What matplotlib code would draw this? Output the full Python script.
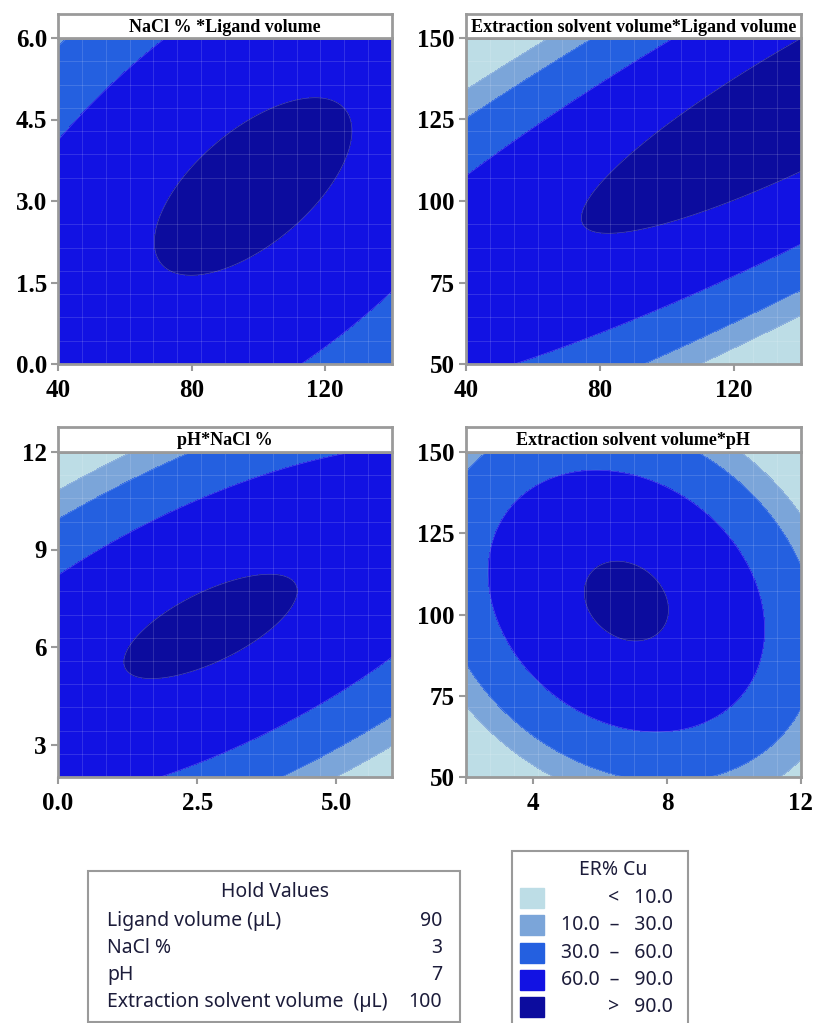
import numpy as np
import matplotlib
matplotlib.use("Agg")
import matplotlib.pyplot as plt
from matplotlib.patches import Rectangle
from matplotlib.ticker import LinearLocator

# ER% Cu bands
levels = [10, 30, 60, 90]
band_colors = ["#bddde6", "#7ba5d9", "#2460e0", "#1212e3", "#0c0c9e"]
band_labels = ["<   10.0", "10.0  \u2013   30.0", "30.0  \u2013   60.0", "60.0  \u2013   90.0", ">   90.0"]

# points, (x, y) per level
# NaCl % (y) vs Ligand volume (x)
nacl_lig = {
    90: [(69.2, 2.27), (70.7, 2.70), (75.7, 3.25), (82.7, 3.80), (92.6, 4.30), (102.6, 4.66),
         (112.6, 4.86), (122.6, 4.85), (126.5, 4.66), (127.5, 4.23), (125.5, 3.74), (118.6, 3.00),
         (109.6, 2.45), (97.6, 2.02), (82.7, 1.59), (74.7, 1.59), (70.7, 1.83)],
    60: [(40, 4.05), (48.8, 4.73), (60.7, 5.46), (71.7, 6.0),
         (111.6, 0.0), (122.6, 0.48), (132.5, 0.91), (140, 1.28)],
    30: [(40, 5.8), (42.3, 6.0)],
}
# Extraction solvent volume (y) vs Ligand volume (x)
ext_lig = {
    90: [(72, 94), (80, 90), (97, 91.8), (108, 96), (119, 100), (140, 108),
         (76, 101), (83, 110), (93, 116), (108, 131), (123, 139), (140, 150)],
    60: [(40, 108.5), (61.8, 120.6), (87.7, 141), (105, 150),
         (53, 50), (93, 65), (123, 79.5), (140, 88)],
    30: [(40, 125.2), (77, 150), (91, 50), (113, 63), (140, 73)],
    10: [(40, 133.9), (63, 150), (119, 50), (140, 66)],
}
# pH (y) vs NaCl % (x)
ph_nacl = {
    90: [(1.14, 5.78), (1.47, 5.11), (2.14, 5.11), (2.86, 5.58), (3.76, 6.4), (4.24, 7.22),
         (4.39, 7.94), (3.88, 8.45), (3.16, 8.15), (2.32, 7.43), (1.53, 6.71)],
    60: [(0, 8.3), (1.35, 9.17), (3.16, 10.5), (4.96, 11.95),
         (1.7, 2.0), (3.76, 3.3), (4.96, 4.55), (6.0, 5.78)],
    30: [(0, 9.94), (1.35, 11.1), (2.14, 12.0), (3.82, 2.0), (4.96, 2.8), (6.0, 3.98)],
    10: [(0, 10.8), (1.11, 12.0), (5.28, 2.0), (6.0, 3.1)],
}
# Extraction solvent volume (y) vs pH (x)
ext_ph = {
    90: [(5.54, 108.5), (5.69, 102.3), (6.29, 94.1), (7.09, 91.5), (7.69, 92.6), (8.09, 105.4),
         (8.19, 102.3), (7.49, 113.6), (6.49, 116.7), (5.89, 113.6)],
    60: [(2.75, 116.7), (3.3, 135.1), (5.99, 143.3), (7.79, 140.4), (9.08, 130.1), (9.98, 119.9),
         (10.77, 107.6), (10.98, 92.2), (10.48, 76.8), (9.28, 69.6), (8.09, 64.5),
         (6.18, 67.6), (4.99, 74.7), (4.19, 81.9), (3.29, 92.2)],
    30: [(2.0, 143.3), (2.6, 150), (9.08, 150), (10.28, 140.4), (11.37, 127.1), (11.87, 119.9),
         (12.0, 70.6), (11.36, 61.5), (10.38, 54.3), (9.08, 50.7),
         (2.05, 79.8), (3.0, 72.6), (4.0, 62.4), (5.28, 51.1)],
    10: [(10.28, 150), (11.07, 140.4), (11.87, 130.1), (12.0, 56.2), (11.46, 50.7),
         (2.05, 71.2), (3.0, 61.5), (4.49, 50.7)],
}

# how much each contour line counts in the fit (flat top needs more weight)
level_weight = {10: 1.0, 30: 1.0, 60: 2.0, 90: 8.0}

panels = [
    ("NaCl % *Ligand volume", nacl_lig, (40, 140), (0, 6), [40, 80, 120], [0, 1.5, 3.0, 4.5, 6.0], "%.0f", "%.1f"),
    ("Extraction solvent volume*Ligand volume", ext_lig, (40, 140), (50, 150), [40, 80, 120], [50, 75, 100, 125, 150], "%.0f", "%.0f"),
    ("pH*NaCl %", ph_nacl, (0, 6), (2, 12), [0, 2.5, 5.0], [3, 6, 9, 12], "%.1f", "%.0f"),
    ("Extraction solvent volume*pH", ext_ph, (2, 12), (50, 150), [2, 4, 8, 12], [50, 75, 100, 125, 150], "%.0f", "%.0f"),
]

W, H = 816, 1023
def fx(x): return x / W
def fy(y): return 1 - y / H

# axes boxes in pixels: left, top, right, bottom
boxes = [(58, 38, 392, 364), (466, 38, 801, 364), (58, 452, 392, 777), (466, 452, 801, 777)]
title_tops = [14, 14, 427, 427]


def coded(a, r):
    return (np.asarray(a, float) - (r[0] + r[1]) / 2) / ((r[1] - r[0]) / 2)


def fit_surface(pts, xr, yr):
    xs, ys, z, w = [], [], [], []
    for lev, plist in pts.items():
        for x, y in plist:
            xs.append(x); ys.append(y); z.append(lev); w.append(level_weight[lev])
    u, v = coded(xs, xr), coded(ys, yr)
    z, w = np.array(z, float), np.sqrt(np.array(w))
    A = np.column_stack([np.ones_like(u), u, v, u * u, v * v, u * v])
    return np.linalg.lstsq(A * w[:, None], z * w, rcond=None)[0]


fig = plt.figure(figsize=(W / 100, H / 100), dpi=100)
serif = "Liberation Serif"
sans = "Noto Sans"
gray = "#9a9a9a"

for (title, pts, xr, yr, xt, yt, xf, yf), (l, t, r, b), tt in zip(panels, boxes, title_tops):
    ax = fig.add_axes([fx(l), fy(b), fx(r - l), (b - t) / H])
    c = fit_surface(pts, xr, yr)
    X, Y = np.meshgrid(np.linspace(xr[0], xr[1], 300), np.linspace(yr[0], yr[1], 300))
    U, V = coded(X, xr), coded(Y, yr)
    Z = c[0] + c[1] * U + c[2] * V + c[3] * U ** 2 + c[4] * V ** 2 + c[5] * U * V
    ax.contourf(X, Y, Z, levels=[-1e6] + levels + [1e6], colors=band_colors)
    ax.contour(X, Y, Z, levels=levels, colors="white", linewidths=0.5, alpha=0.25)
    ax.set_xlim(xr)
    ax.set_ylim(yr)
    # faint mesh like the original rendering
    ax.xaxis.set_minor_locator(LinearLocator(15))
    ax.yaxis.set_minor_locator(LinearLocator(15))
    ax.grid(True, which="minor", color="white", alpha=0.16, lw=0.6)
    ax.tick_params(which="minor", length=0)
    ax.set_xticks(xt)
    ax.set_yticks(yt)
    ax.set_xticklabels([("" if (xr == (2, 12) and v == 2) else xf % v) for v in xt])
    ax.set_yticklabels([yf % v for v in yt])
    ax.tick_params(which="major", direction="out", length=5, width=1.5, color=gray, pad=3)
    ax.tick_params(axis="x", which="major", pad=6)
    for lab in ax.get_xticklabels() + ax.get_yticklabels():
        lab.set_fontfamily(serif)
        lab.set_fontweight("bold")
        lab.set_fontsize(18)
    for s in ax.spines.values():
        s.set_color(gray)
        s.set_linewidth(2)

    tax = fig.add_axes([fx(l), fy(t), fx(r - l), (t - tt) / H])
    tax.set_xticks([])
    tax.set_yticks([])
    for s in tax.spines.values():
        s.set_color(gray)
        s.set_linewidth(2)
    tax.text(0.5, 0.45, title, ha="center", va="center", fontsize=13, fontweight="bold",
             family=serif, transform=tax.transAxes)

# Hold values box
hold_names = ["Ligand volume (\u00b5L)", "NaCl %", "pH", "Extraction solvent volume  (\u00b5L)"]
hold_vals = ["90", "3", "7", "100"]
txt = "#1c1c3a"
fs = 14
fig.patches.append(Rectangle((fx(88), fy(1022)), fx(460 - 88), (1022 - 871) / H,
                             transform=fig.transFigure, fill=False, ec=gray, lw=1.5))
fig.text(fx(275), fy(892), "Hold Values", ha="center", va="center", fontsize=fs, family=sans, color=txt)
for i, (n, v) in enumerate(zip(hold_names, hold_vals)):
    yy = 921 + i * 27
    fig.text(fx(107), fy(yy), n, ha="left", va="center", fontsize=fs, family=sans, color=txt)
    fig.text(fx(442), fy(yy), v, ha="right", va="center", fontsize=fs, family=sans, color=txt)

# ER% legend
fig.patches.append(Rectangle((fx(512), fy(1040)), fx(688 - 512), (1040 - 851) / H,
                             transform=fig.transFigure, fill=False, ec=gray, lw=1.5))
fig.text(fx(613), fy(870), "ER% Cu", ha="center", va="center", fontsize=fs, family=sans, color=txt)
for i, (col, lab) in enumerate(zip(band_colors, band_labels)):
    yc = 898 + i * 27.3
    fig.patches.append(Rectangle((fx(520), fy(yc + 10)), fx(24), 20 / H,
                                 transform=fig.transFigure, color=col))
    fig.text(fx(673), fy(yc), lab, ha="right", va="center", fontsize=fs, family=sans, color=txt)

fig.savefig("out.png", dpi=100)
